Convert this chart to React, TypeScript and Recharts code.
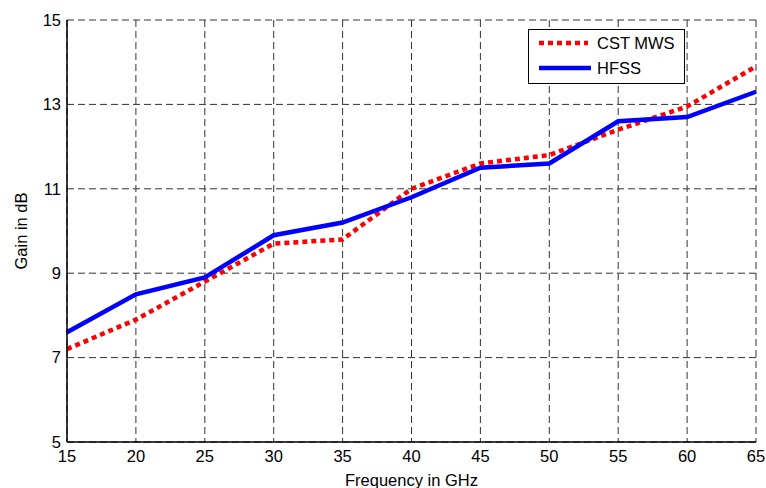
import React from 'react';
import {
  LineChart,
  Line,
  XAxis,
  YAxis,
  CartesianGrid,
} from 'recharts';

const freqs = [15, 20, 25, 30, 35, 40, 45, 50, 55, 60, 65];
const cstMws = [7.2, 7.9, 8.8, 9.7, 9.8, 11.0, 11.6, 11.8, 12.4, 12.95, 13.9];
const hfss = [7.6, 8.5, 8.9, 9.9, 10.2, 10.8, 11.5, 11.6, 12.6, 12.7, 13.3];
const xTicks = [15, 20, 25, 30, 35, 40, 45, 50, 55, 60, 65];
const yTicks = [5, 7, 9, 11, 13, 15];

const data = freqs.map((f, i) => ({ f, cst: cstMws[i], hfss: hfss[i] }));

const FONT = '"Liberation Sans", Arial, sans-serif';
const FS = 16.5;
const RED_DASH = '5 4';
const LW = 4.5;

// legend drawn as an overlay so it doesn't shrink the plot area
function LegendBox() {
  return (
    <svg
      width={158}
      height={55}
      style={{ position: 'absolute', left: 528, top: 29, overflow: 'visible' }}
    >
      <rect x={0.5} y={0.5} width={156} height={54} fill="#fff" stroke="#000" strokeWidth={1} />
      <line x1={11} y1={14} x2={60} y2={14} stroke="#ff0000" strokeWidth={LW} strokeDasharray={RED_DASH} />
      <line x1={11} y1={39} x2={63} y2={39} stroke="#0000ff" strokeWidth={LW} />
      <text x={69} y={20} fontSize={FS} fontFamily={FONT} fill="#000">CST MWS</text>
      <text x={69} y={45} fontSize={FS} fontFamily={FONT} fill="#000">HFSS</text>
    </svg>
  );
}

export default function App() {
  return (
    <div style={{ position: 'absolute', left: 0, top: 0, width: 766, height: 488, background: '#fff' }}>
      <LineChart
        width={766}
        height={488}
        data={data}
        margin={{ top: 20, right: 10, left: 0, bottom: 0 }}
        style={{ fontFamily: FONT }}
      >
        <CartesianGrid
          stroke="#333"
          strokeDasharray="7 4"
          horizontalValues={yTicks}
          verticalValues={xTicks}
        />
        <XAxis
          dataKey="f"
          type="number"
          domain={[15, 65]}
          ticks={xTicks}
          height={46}
          tickLine={false}
          tickSize={4}
          tickMargin={4}
          axisLine={{ stroke: '#000', strokeWidth: 1.5 }}
          tick={{ fill: '#000', fontSize: FS, fontFamily: FONT }}
          label={{ value: 'Frequency in GHz', position: 'insideBottom', offset: 2, fill: '#000', fontSize: FS, fontFamily: FONT }}
        />
        <XAxis
          xAxisId="top"
          dataKey="f"
          type="number"
          orientation="top"
          domain={[15, 65]}
          ticks={xTicks}
          height={0}
          tick={false}
          tickLine={false}
          axisLine={{ stroke: '#000', strokeWidth: 1.5 }}
        />
        <YAxis
          type="number"
          domain={[5, 15]}
          ticks={yTicks}
          width={67}
          tickLine={false}
          tickSize={4}
          tickMargin={2}
          axisLine={{ stroke: '#000', strokeWidth: 1.5 }}
          tick={{ fill: '#000', fontSize: FS, fontFamily: FONT }}
          label={{ value: 'Gain in dB', angle: -90, position: 'insideLeft', offset: 21, fill: '#000', fontSize: FS, fontFamily: FONT, style: { textAnchor: 'middle' } }}
        />
        <YAxis
          yAxisId="right"
          orientation="right"
          type="number"
          domain={[5, 15]}
          ticks={yTicks}
          width={0}
          tick={false}
          tickLine={false}
          axisLine={{ stroke: '#000', strokeWidth: 1.5 }}
        />
        <Line
          type="linear"
          dataKey="cst"
          name="CST MWS"
          stroke="#ff0000"
          strokeWidth={LW}
          strokeDasharray={RED_DASH}
          dot={false}
          isAnimationActive={false}
        />
        <Line
          type="linear"
          dataKey="hfss"
          name="HFSS"
          stroke="#0000ff"
          strokeWidth={LW}
          dot={false}
          isAnimationActive={false}
        />
      </LineChart>
      <LegendBox />
    </div>
  );
}
